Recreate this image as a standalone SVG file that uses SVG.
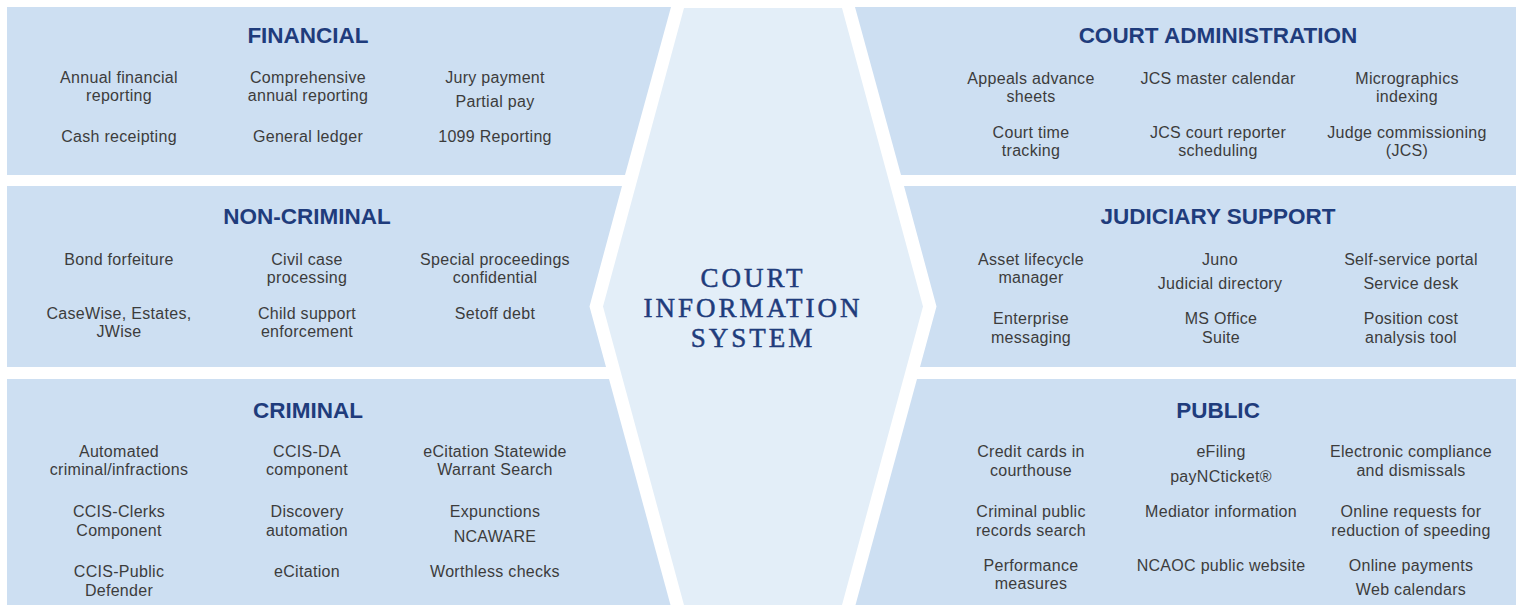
<svg xmlns="http://www.w3.org/2000/svg" width="1523" height="606" viewBox="0 0 1523 606">
<style>
.panel{fill:#cddff2}
.hex{fill:#e3eef8}
.t{font-family:"Liberation Sans",Arial,sans-serif;font-weight:bold;font-size:22.5px;fill:#1f3c7c;text-anchor:middle}
.b{font-family:"Liberation Sans",Arial,sans-serif;font-size:16px;letter-spacing:0.3px;fill:#3c3c3c;text-anchor:middle}
.c{font-family:"Liberation Serif","Times New Roman",serif;font-size:27px;fill:#1f3c7c;stroke:#1f3c7c;stroke-width:0.5;text-anchor:middle;letter-spacing:3px}
</style>
<rect width="1523" height="606" fill="#ffffff"/>
<g id="center">
<polygon class="hex" points="684,8 842,8 923,306.5 842,605 684,605 603,306.5"/>
<text class="c"><tspan x="753" y="286.5">COURT</tspan><tspan x="753" y="316.5">INFORMATION</tspan><tspan x="753" y="346.5">SYSTEM</tspan></text>
</g>
<g id="financial">
<polygon class="panel" points="7,7 671,7 625,175 7,175"/>
<text class="t" x="308" y="43">FINANCIAL</text>
<text class="b"><tspan x="119" y="83">Annual financial</tspan><tspan x="119" y="101">reporting</tspan></text>
<text class="b" x="119" y="142">Cash receipting</text>
<text class="b"><tspan x="308" y="83">Comprehensive</tspan><tspan x="308" y="101">annual reporting</tspan></text>
<text class="b" x="308" y="142">General ledger</text>
<text class="b"><tspan x="495" y="83">Jury payment</tspan><tspan x="495" y="107">Partial pay</tspan></text>
<text class="b" x="495" y="142">1099 Reporting</text>
</g>
<g id="non-criminal">
<polygon class="panel" points="7,186 622,186 589.5,306.5 606,367 7,367"/>
<text class="t" x="307" y="224">NON-CRIMINAL</text>
<text class="b" x="119" y="265">Bond forfeiture</text>
<text class="b"><tspan x="307" y="265">Civil case</tspan><tspan x="307" y="283">processing</tspan></text>
<text class="b"><tspan x="495" y="265">Special proceedings</tspan><tspan x="495" y="283">confidential</tspan></text>
<text class="b"><tspan x="119" y="319">CaseWise, Estates,</tspan><tspan x="119" y="337">JWise</tspan></text>
<text class="b"><tspan x="307" y="319">Child support</tspan><tspan x="307" y="337">enforcement</tspan></text>
<text class="b" x="495" y="319">Setoff debt</text>
</g>
<g id="criminal">
<polygon class="panel" points="7,379 609,379 670.5,605 7,605"/>
<text class="t" x="308" y="418">CRIMINAL</text>
<text class="b"><tspan x="119" y="457">Automated</tspan><tspan x="119" y="475">criminal/infractions</tspan></text>
<text class="b"><tspan x="307" y="457">CCIS-DA</tspan><tspan x="307" y="475">component</tspan></text>
<text class="b"><tspan x="495" y="457">eCitation Statewide</tspan><tspan x="495" y="475">Warrant Search</tspan></text>
<text class="b"><tspan x="119" y="517">CCIS-Clerks</tspan><tspan x="119" y="536">Component</tspan></text>
<text class="b"><tspan x="307" y="517">Discovery</tspan><tspan x="307" y="536">automation</tspan></text>
<text class="b"><tspan x="495" y="517">Expunctions</tspan><tspan x="495" y="542">NCAWARE</tspan></text>
<text class="b"><tspan x="119" y="577">CCIS-Public</tspan><tspan x="119" y="596">Defender</tspan></text>
<text class="b" x="307" y="577">eCitation</text>
<text class="b" x="495" y="577">Worthless checks</text>
</g>
<g id="court-administration">
<polygon class="panel" points="855,7 1516,7 1516,175 901,175"/>
<text class="t" x="1218" y="43">COURT ADMINISTRATION</text>
<text class="b"><tspan x="1031" y="84">Appeals advance</tspan><tspan x="1031" y="102">sheets</tspan></text>
<text class="b" x="1218" y="84">JCS master calendar</text>
<text class="b"><tspan x="1407" y="84">Micrographics</tspan><tspan x="1407" y="102">indexing</tspan></text>
<text class="b"><tspan x="1031" y="138">Court time</tspan><tspan x="1031" y="156">tracking</tspan></text>
<text class="b"><tspan x="1218" y="138">JCS court reporter</tspan><tspan x="1218" y="156">scheduling</tspan></text>
<text class="b"><tspan x="1407" y="138">Judge commissioning</tspan><tspan x="1407" y="156">(JCS)</tspan></text>
</g>
<g id="judiciary-support">
<polygon class="panel" points="904,186 1516,186 1516,367 920,367 936.5,306.5"/>
<text class="t" x="1218" y="224">JUDICIARY SUPPORT</text>
<text class="b"><tspan x="1031" y="265">Asset lifecycle</tspan><tspan x="1031" y="283">manager</tspan></text>
<text class="b"><tspan x="1220" y="265">Juno</tspan><tspan x="1220" y="289">Judicial directory</tspan></text>
<text class="b"><tspan x="1411" y="265">Self-service portal</tspan><tspan x="1411" y="289">Service desk</tspan></text>
<text class="b"><tspan x="1031" y="324">Enterprise</tspan><tspan x="1031" y="343">messaging</tspan></text>
<text class="b"><tspan x="1221" y="324">MS Office</tspan><tspan x="1221" y="343">Suite</tspan></text>
<text class="b"><tspan x="1411" y="324">Position cost</tspan><tspan x="1411" y="343">analysis tool</tspan></text>
</g>
<g id="public">
<polygon class="panel" points="917,379 1516,379 1516,605 855.5,605"/>
<text class="t" x="1218" y="418">PUBLIC</text>
<text class="b"><tspan x="1031" y="457">Credit cards in</tspan><tspan x="1031" y="476">courthouse</tspan></text>
<text class="b"><tspan x="1221" y="457">eFiling</tspan><tspan x="1221" y="482">payNCticket®</tspan></text>
<text class="b"><tspan x="1411" y="457">Electronic compliance</tspan><tspan x="1411" y="476">and dismissals</tspan></text>
<text class="b"><tspan x="1031" y="517">Criminal public</tspan><tspan x="1031" y="536">records search</tspan></text>
<text class="b" x="1221" y="517">Mediator information</text>
<text class="b"><tspan x="1411" y="517">Online requests for</tspan><tspan x="1411" y="536">reduction of speeding</tspan></text>
<text class="b"><tspan x="1031" y="571">Performance</tspan><tspan x="1031" y="589">measures</tspan></text>
<text class="b" x="1221" y="571">NCAOC public website</text>
<text class="b"><tspan x="1411" y="571">Online payments</tspan><tspan x="1411" y="595">Web calendars</tspan></text>
</g>
<g id="connectors"/>
</svg>
